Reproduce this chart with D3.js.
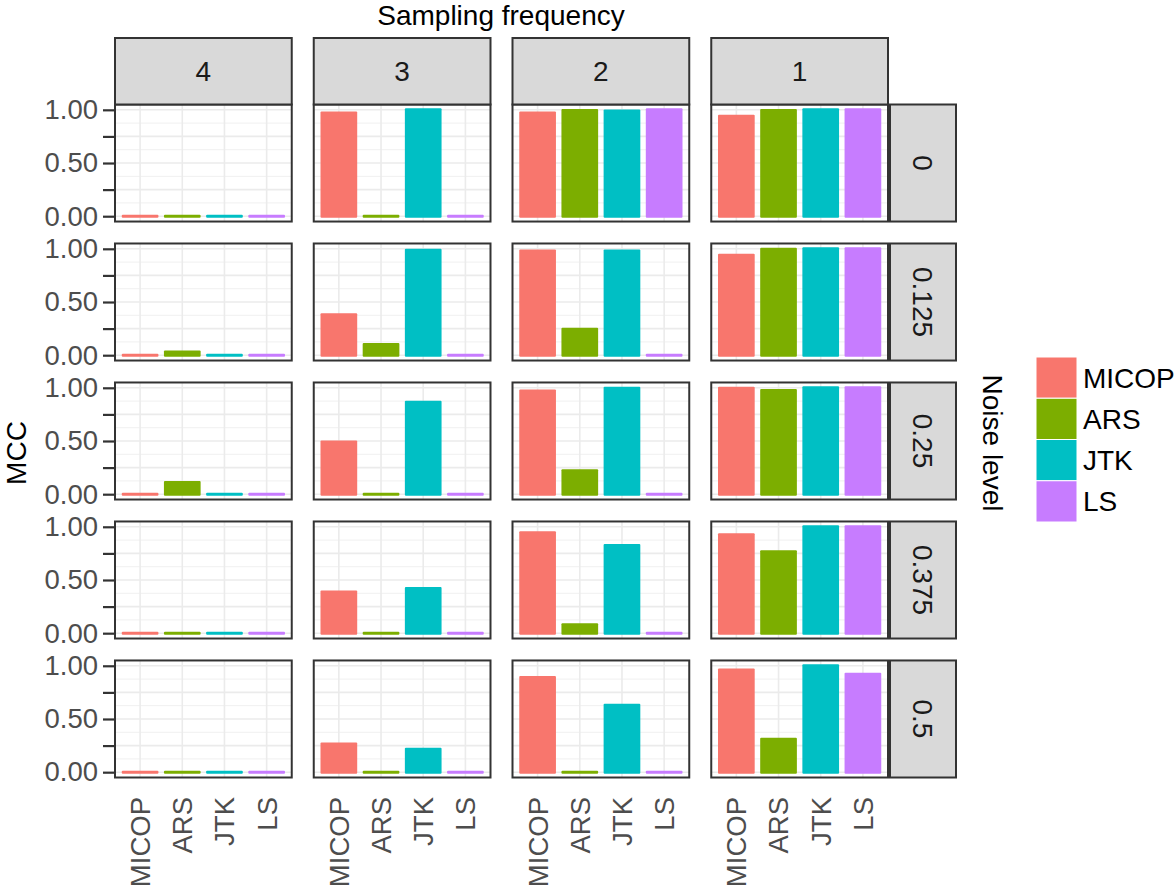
<!DOCTYPE html>
<html lang="en">
<head>
<meta charset="utf-8">
<title>MCC by sampling frequency and noise level</title>
<script src="https://d3js.org/d3.v7.min.js"></script>
<style>
  body { margin: 0; background: #fff; font-family: "Liberation Sans", Arial, Helvetica, sans-serif; }
  svg text { font-family: "Liberation Sans", Arial, Helvetica, sans-serif; }
</style>
</head>
<body>
<div id="chart"></div>
<script>
// categories
var methods = ["MICOP", "ARS", "JTK", "LS"];
var freqs = ["4", "3", "2", "1"];
var noiseLevels = ["0", "0.125", "0.25", "0.375", "0.5"];
var yTicks = [0, 0.25, 0.5, 0.75, 1];
var yLabels = ["0.00", "", "0.50", "", "1.00"];
var colors = ["#F8766D", "#7CAE00", "#00BFC4", "#C77CFF"];

// MCC values: one row per noise level, one column per sampling frequency (4,3,2,1)
var micop = [
  [0, 0.97, 0.97, 0.94],
  [0, 0.38, 0.98, 0.94],
  [0, 0.49, 0.97, 0.996],
  [0, 0.386, 0.944, 0.925],
  [0, 0.265, 0.89, 0.96]
];
var ars = [
  [0, 0, 0.993, 0.993],
  [0.03, 0.10, 0.243, 0.996],
  [0.11, 0, 0.22, 0.975],
  [0, 0, 0.08, 0.766],
  [0, 0, 0, 0.31]
];
var jtk = [
  [0, 1.0, 0.99, 1.0],
  [0, 0.987, 0.98, 1.0],
  [0, 0.865, 0.996, 1.0],
  [0, 0.42, 0.825, 1.0],
  [0, 0.215, 0.63, 1.0]
];
var ls = [
  [0, 0, 1.0, 1.0],
  [0, 0, 0, 1.0],
  [0, 0, 0, 1.0],
  [0, 0, 0, 1.0],
  [0, 0, 0, 0.92]
];
var series = [micop, ars, jtk, ls];

var W = 1176, H = 888;
var svg = d3.select("#chart").append("svg")
  .attr("width", W).attr("height", H);

// facet layout
var colScale = d3.scaleBand().domain(freqs).range([115, 888]).paddingInner(0.1107);
var rowScale = d3.scaleBand().domain(noiseLevels).range([104.5, 777.5]).paddingInner(0.158);
var pw = colScale.bandwidth(), ph = rowScale.bandwidth();

var x = d3.scaleBand().domain(methods).range([0, pw]).paddingInner(0.13).paddingOuter(0.16);
var y = d3.scaleLinear().domain([-0.05, 1.05]).range([ph, 0]);

var dark = "#333333";

// build cells
var cells = [];
noiseLevels.forEach(function(n, r) {
  freqs.forEach(function(f, c) {
    cells.push({ noise: n, freq: f, r: r, c: c });
  });
});

var panel = svg.selectAll(".panel").data(cells).enter().append("g")
  .attr("class", "panel")
  .attr("transform", function(d) { return "translate(" + colScale(d.freq) + "," + rowScale(d.noise) + ")"; });

panel.append("rect").attr("width", pw).attr("height", ph).attr("fill", "#fff");

// grid: minor at eighths, major at quarters, vertical at categories
var minor = [0.125, 0.375, 0.625, 0.875];
panel.each(function() {
  var g = d3.select(this);
  g.selectAll(".minor").data(minor).enter().append("line")
    .attr("x1", 0).attr("x2", pw)
    .attr("y1", function(v) { return y(v); }).attr("y2", function(v) { return y(v); })
    .attr("stroke", "#f0f0f0").attr("stroke-width", 1);
  g.selectAll(".major").data(yTicks).enter().append("line")
    .attr("x1", 0).attr("x2", pw)
    .attr("y1", function(v) { return y(v); }).attr("y2", function(v) { return y(v); })
    .attr("stroke", "#ebebeb").attr("stroke-width", 1.6);
  g.selectAll(".vgrid").data(methods).enter().append("line")
    .attr("x1", function(m) { return x(m) + x.bandwidth() / 2; })
    .attr("x2", function(m) { return x(m) + x.bandwidth() / 2; })
    .attr("y1", 0).attr("y2", ph)
    .attr("stroke", "#ebebeb").attr("stroke-width", 1.6);
});

// bars
panel.each(function(d) {
  var g = d3.select(this);
  var vals = methods.map(function(m, i) { return { m: m, v: series[i][d.r][d.c], col: colors[i] }; });
  g.selectAll(".bar").data(vals).enter().append("rect")
    .attr("class", "bar")
    .attr("x", function(b) { return x(b.m); })
    .attr("width", x.bandwidth())
    .attr("y", function(b) { return y(b.v) - 1.5; })
    .attr("height", function(b) { return y(0) - y(b.v) + 3; })
    .attr("rx", 1)
    .attr("fill", function(b) { return b.col; });
});

// panel border
panel.append("rect").attr("width", pw).attr("height", ph)
  .attr("fill", "none").attr("stroke", dark).attr("stroke-width", 2);

// top strips
var stripTop = svg.selectAll(".strip-top").data(freqs).enter().append("g")
  .attr("class", "strip-top")
  .attr("transform", function(f) { return "translate(" + colScale(f) + ",38)"; });
stripTop.append("rect").attr("width", pw).attr("height", 104.5 - 38)
  .attr("fill", "#d9d9d9").attr("stroke", dark).attr("stroke-width", 2);
stripTop.append("text").attr("x", pw / 2).attr("y", (104.5 - 38) / 2)
  .attr("dy", "0.36em").attr("text-anchor", "middle")
  .attr("font-size", 28).attr("fill", "#1a1a1a")
  .text(function(f) { return f; });

// right strips
var stripRight = svg.selectAll(".strip-right").data(noiseLevels).enter().append("g")
  .attr("class", "strip-right")
  .attr("transform", function(n) { return "translate(890," + rowScale(n) + ")"; });
stripRight.append("rect").attr("width", 66).attr("height", ph)
  .attr("fill", "#d9d9d9").attr("stroke", dark).attr("stroke-width", 2);
stripRight.append("text")
  .attr("transform", "translate(33," + ph / 2 + ") rotate(90)")
  .attr("dy", "0.36em").attr("text-anchor", "middle")
  .attr("font-size", 28).attr("fill", "#1a1a1a")
  .text(function(n) { return n; });

// y axes (left column only)
noiseLevels.forEach(function(n) {
  var g = svg.append("g").attr("transform", "translate(115," + rowScale(n) + ")");
  var ax = d3.axisLeft(y).tickValues(yTicks).tickSize(12).tickPadding(5)
    .tickFormat(function(v, i) { return yLabels[i]; });
  g.call(ax);
  g.select(".domain").remove();
  g.selectAll(".tick line").attr("stroke", dark).attr("stroke-width", 2.2);
  g.selectAll(".tick text").attr("font-size", 27.5).attr("fill", "#4d4d4d")
    .attr("font-family", "Liberation Sans, Arial, sans-serif");
});

// x labels (bottom row)
freqs.forEach(function(f) {
  var g = svg.append("g").attr("transform", "translate(" + colScale(f) + ",797)");
  g.selectAll("text").data(methods).enter().append("text")
    .attr("transform", function(m) { return "translate(" + (x(m) + x.bandwidth() / 2) + ",0) rotate(-90)"; })
    .attr("dy", "0.36em").attr("text-anchor", "end")
    .attr("font-size", 27.5).attr("fill", "#4d4d4d")
    .text(function(m) { return m; });
});

// titles
svg.append("text").attr("x", 501).attr("y", 25).attr("text-anchor", "middle")
  .attr("font-size", 28).attr("fill", "#000").text("Sampling frequency");
svg.append("text").attr("transform", "translate(16,453) rotate(-90)")
  .attr("dy", "0.36em").attr("text-anchor", "middle")
  .attr("font-size", 28).attr("fill", "#000").text("MCC");
svg.append("text").attr("transform", "translate(993,443) rotate(90)")
  .attr("dy", "0.36em").attr("text-anchor", "middle")
  .attr("font-size", 28).attr("fill", "#000").text("Noise level");

// legend
var key = d3.scaleBand().domain(methods).range([357, 522]);
var leg = svg.selectAll(".legend").data(methods).enter().append("g")
  .attr("class", "legend")
  .attr("transform", function(m) { return "translate(1036," + key(m) + ")"; });
leg.append("rect").attr("width", 41).attr("height", key.bandwidth())
  .attr("fill", function(m, i) { return colors[i]; })
  .attr("stroke", "#fff").attr("stroke-width", 1);
leg.append("text").attr("x", 47).attr("y", key.bandwidth() / 2)
  .attr("dy", "0.36em").attr("font-size", 28).attr("fill", "#000")
  .text(function(m) { return m; });
</script>
</body>
</html>
